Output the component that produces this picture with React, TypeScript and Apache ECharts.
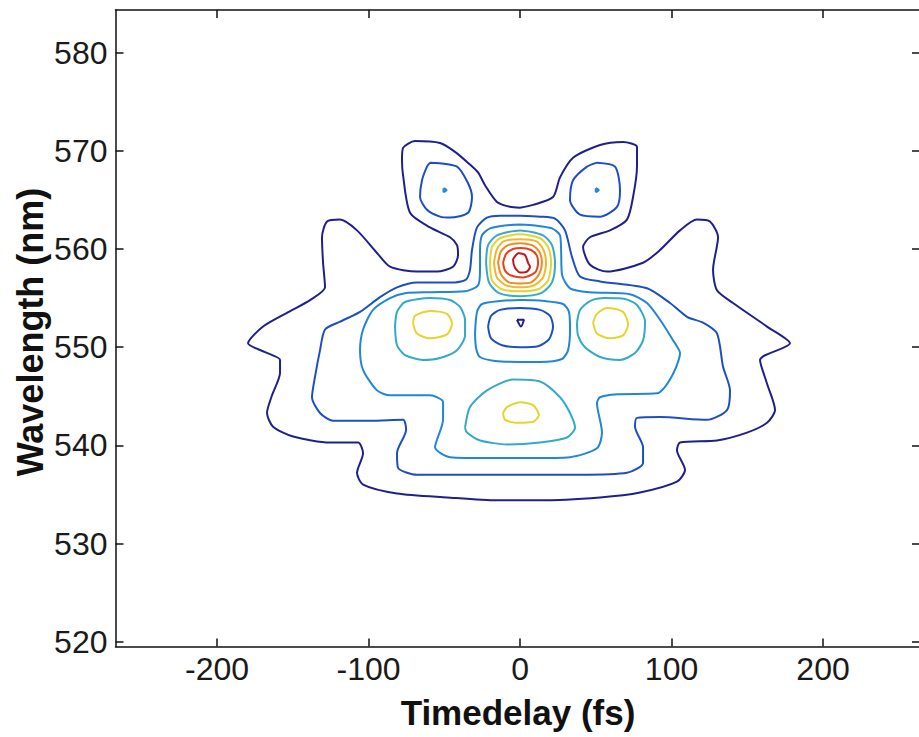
import React, { useEffect, useRef } from "react";
import * as echarts from "echarts";

// Axis ticks
const xTicks = [-200, -100, 0, 100, 200];
const yTicks = [520, 530, 540, 550, 560, 570, 580];

// Contour level colours (jet-like)
const levelColors = ["#1f1f8f", "#1c4fc4", "#2186db", "#35a9c9", "#e3d52e", "#f2b62c", "#f08a22", "#e8401e", "#c8141c"];

// Level 1 (outermost)
const level1Outer = [[0,564.2],[-6.6,564.3],[-15.2,564.8],[-23.1,566.5],[-27.7,567.8],[-33.0,568.6],[-42.9,569.9],[-52.8,570.8],[-69.3,571.0],[-77.2,570.3],[-77.9,569.1],[-77.2,567.5],[-72.6,563.7],[-59.4,562.2],[-46.2,561.2],[-41.6,560.4],[-40.9,559.4],[-44.2,558.2],[-54.8,557.7],[-68.0,557.7],[-85.8,558.2],[-94.4,559.6],[-107.6,561.9],[-118.8,563.0],[-127.4,562.8],[-130.7,561.2],[-130.0,558.6],[-128.7,556.1],[-138.6,554.8],[-153.8,553.5],[-169.6,552.1],[-179.5,550.4],[-168.3,549.5],[-158.4,548.7],[-158.4,547.4],[-163.7,545.1],[-167.0,543.3],[-163.0,541.9],[-149.8,540.9],[-125.4,540.3],[-106.9,540.3],[-103.6,539.2],[-107.6,537.2],[-103.6,536.0],[-81.2,535.1],[-48.2,534.7],[-15.2,534.4],[13.2,534.4],[52.8,534.7],[79.2,535.2],[103.6,536.3],[108.9,537.5],[103.6,539.5],[105.6,540.3],[130.0,540.5],[149.8,541.3],[163.0,542.3],[168.3,543.6],[163.0,546.3],[158.4,548.7],[178.2,550.4],[163.0,552.1],[140.6,554.5],[130.0,555.8],[127.4,557.9],[130.7,561.2],[125.4,562.8],[116.8,563.0],[105.6,561.9],[92.4,559.9],[81.2,558.6],[57.4,557.7],[46.2,558.4],[41.6,560.2],[46.2,561.2],[59.4,561.9],[70.6,563.0],[74.6,565.3],[77.2,568.4],[77.2,570.4],[68.0,570.9],[52.8,570.6],[35.0,569.3],[26.4,567.3],[21.8,565.3],[8.6,564.5],[0,564.2]];
const level1Dip = [[-2.0,552.8],[2.6,552.8],[0.7,552.1],[-2.0,552.8]];

// Level 2
const level2Main = [[0,563.4],[-13.2,563.4],[-21.8,563.2],[-28.4,562.2],[-31.7,559.9],[-33.0,557.9],[-35.6,556.9],[-42.9,556.6],[-68.0,556.6],[-81.2,556.1],[-92.4,555.1],[-105.6,553.6],[-118.8,552.6],[-128.7,551.8],[-132.0,549.7],[-135.3,547.0],[-137.3,544.9],[-132.0,543.3],[-123.4,542.5],[-99.0,542.5],[-77.2,542.6],[-75.2,541.6],[-81.2,539.2],[-80.5,537.7],[-68.0,537.0],[-26.4,537.0],[6.6,537.0],[39.6,537.0],[70.6,537.2],[81.2,538.2],[81.2,539.8],[75.9,541.9],[77.2,542.8],[92.4,542.9],[123.4,542.6],[136.6,543.6],[138.6,545.6],[134.0,548.0],[130.0,551.4],[120.8,552.5],[110.2,553.1],[99.0,554.5],[83.8,556.0],[52.8,556.7],[39.6,557.2],[34.3,559.2],[29.7,561.9],[23.1,563.1],[13.2,563.3],[0,563.4]];
const level2WingLeft = [[-59.4,568.8],[-41.6,568.4],[-34.3,566.7],[-31.7,565.3],[-34.3,563.7],[-46.2,563.2],[-52.8,563.3],[-61.4,564.0],[-66.0,565.3],[-64.7,567.0],[-61.4,568.4],[-59.4,568.8]];
const level2WingRight = [[50.8,568.8],[62.7,568.4],[66.0,566.0],[64.0,564.3],[52.8,563.3],[39.6,563.5],[33.0,565.0],[35.0,567.0],[44.2,568.4],[50.8,568.8]];
const level2Dip = [[-21.1,552.1],[-19.1,553.2],[-13.2,553.8],[0,554.0],[13.2,553.8],[19.8,553.2],[21.8,552.1],[19.1,550.8],[11.9,550.1],[0,550.0],[-11.9,550.2],[-19.1,550.9],[-21.1,552.1]];

// Level 3
const level3Main = [[0,562.5],[-9.9,562.4],[-19.8,562.1],[-25.1,561.4],[-26.4,559.9],[-26.4,557.9],[-27.7,556.3],[-36.3,555.7],[-59.4,555.6],[-75.9,555.5],[-85.8,555.0],[-97.0,553.8],[-103.6,551.8],[-105.6,549.7],[-103.6,547.7],[-94.4,545.6],[-85.8,545.1],[-59.4,545.1],[-50.8,544.4],[-50.8,542.6],[-56.1,539.8],[-46.2,538.8],[-19.8,538.7],[6.6,538.7],[33.0,538.8],[50.8,539.7],[54.1,541.3],[50.8,544.3],[52.8,544.9],[64.0,545.2],[90.4,545.3],[99.0,546.7],[105.6,549.4],[101.0,550.7],[92.4,552.8],[83.8,554.5],[72.6,555.4],[46.2,555.6],[33.0,556.0],[27.7,557.4],[27.1,559.9],[26.4,561.4],[21.1,562.1],[9.9,562.4],[0,562.5]];
const level3Dip = [[-29.7,551.4],[-28.4,553.6],[-25.1,554.4],[-13.2,554.7],[0,554.8],[16.5,554.7],[28.4,554.4],[32.3,553.6],[33.0,551.8],[31.7,549.7],[27.7,548.8],[13.2,548.5],[0,548.5],[-16.5,548.6],[-26.4,549.0],[-29.0,549.9],[-29.7,551.4]];
const level3WingLeft = [[-50.5,566.2],[-48.5,566.0],[-50.5,565.8],[-50.5,566.2]];
const level3WingRight = [[50.0,566.2],[52.0,566.0],[50.0,565.8],[50.0,566.2]];

// Level 4
const level4Center = [[-22.4,558.6],[-21.1,560.4],[-15.2,561.4],[0,561.9],[15.2,561.4],[21.1,560.4],[23.1,558.6],[21.1,556.6],[13.9,555.5],[0,555.2],[-13.9,555.5],[-20.5,556.6],[-22.4,558.6]];
const level4Left = [[-82.5,552.1],[-81.2,553.6],[-75.9,554.6],[-59.4,555.0],[-46.2,554.8],[-39.6,554.1],[-36.3,552.8],[-36.3,551.2],[-41.6,549.7],[-52.8,548.9],[-64.0,548.7],[-75.9,549.2],[-81.2,550.2],[-82.5,552.1]];
const level4Right = [[37.6,552.5],[39.6,553.8],[46.2,554.7],[56.1,555.0],[69.3,554.9],[77.2,554.3],[82.5,552.6],[81.2,550.7],[75.9,549.4],[66.0,548.7],[52.8,549.0],[42.9,550.0],[38.3,551.2],[37.6,552.5]];
const level4Bottom = [[-36.3,541.8],[-33.0,543.9],[-21.8,545.6],[-4.6,546.7],[13.2,546.5],[26.4,544.9],[33.0,543.3],[36.3,541.8],[31.0,540.8],[13.2,540.3],[-8.6,540.1],[-26.4,540.5],[-35.0,541.3],[-36.3,541.8]];

// Level 5
const level5Center = [[-19.8,558.6],[-18.5,560.2],[-13.2,561.1],[0,561.5],[13.2,561.1],[18.5,560.2],[20.5,558.6],[18.5,556.8],[11.9,555.9],[0,555.7],[-11.9,555.9],[-18.5,556.8],[-19.8,558.6]];
const level5Left = [[-70.6,552.4],[-69.3,553.2],[-59.4,553.7],[-48.2,553.4],[-44.9,552.4],[-48.2,551.3],[-59.4,550.9],[-68.0,551.4],[-70.6,552.4]];
const level5Right = [[48.2,552.5],[50.8,553.4],[57.4,554.0],[68.0,553.6],[71.3,552.3],[68.0,551.2],[59.4,550.9],[50.8,551.4],[48.2,552.5]];
const level5Bottom = [[-11.2,543.3],[-8.6,543.9],[0,544.4],[8.6,544.1],[12.5,543.1],[8.6,542.4],[-2.0,542.3],[-9.9,542.6],[-11.2,543.3]];

// Levels 6-9 (central peak)
const level6Center = [[-17.2,558.6],[-15.2,560.0],[-10.6,560.8],[0,561.0],[10.6,560.8],[15.2,560.0],[17.2,558.6],[15.2,557.1],[9.2,556.3],[0,556.1],[-9.2,556.3],[-15.2,557.1],[-17.2,558.6]];
const level7Center = [[-14.5,558.6],[-12.5,559.8],[-7.9,560.4],[0,560.6],[7.9,560.4],[12.5,559.8],[14.5,558.6],[12.5,557.4],[7.3,556.6],[0,556.5],[-7.3,556.6],[-12.5,557.4],[-14.5,558.6]];
const level8Center = [[-11.2,558.6],[-9.2,559.5],[-4.6,560.0],[0.7,560.1],[7.3,559.9],[11.2,559.3],[11.9,558.5],[9.9,557.6],[2.0,557.1],[-5.9,557.3],[-9.9,557.8],[-11.2,558.6]];
const level9Center = [[-1.3,559.6],[3.3,559.4],[5.3,558.6],[6.6,558.2],[4.6,557.7],[0,557.6],[-3.3,558.1],[-4.6,558.9],[-1.3,559.6]];

const contourSets: { data: number[][]; level: number }[] = [
  { data: level1Outer, level: 0 },
  { data: level1Dip, level: 0 },
  { data: level2Main, level: 1 },
  { data: level2WingLeft, level: 1 },
  { data: level2WingRight, level: 1 },
  { data: level2Dip, level: 1 },
  { data: level3Main, level: 2 },
  { data: level3Dip, level: 2 },
  { data: level3WingLeft, level: 2 },
  { data: level3WingRight, level: 2 },
  { data: level4Center, level: 3 },
  { data: level4Left, level: 3 },
  { data: level4Right, level: 3 },
  { data: level4Bottom, level: 3 },
  { data: level5Center, level: 4 },
  { data: level5Left, level: 4 },
  { data: level5Right, level: 4 },
  { data: level5Bottom, level: 4 },
  { data: level6Center, level: 5 },
  { data: level7Center, level: 6 },
  { data: level8Center, level: 7 },
  { data: level9Center, level: 8 },
];

const FONT = '"Liberation Sans", Arial, Helvetica, sans-serif';

export default function App() {
  const ref = useRef<HTMLDivElement>(null);
  useEffect(() => {
    if (!ref.current) return;
    const chart = echarts.init(ref.current, undefined, { renderer: "svg" });
    const axisLine = { show: true, onZero: false, lineStyle: { color: "#111", width: 1.5 } };
    const tickStyle = { lineStyle: { color: "#111", width: 1.5 } };
    chart.setOption({
      animation: false,
      backgroundColor: "#ffffff",
      grid: { left: 115.5, top: 10, width: 804.5, height: 636.6, containLabel: false },
      xAxis: [
        {
          type: "value", min: -267, max: 264, position: "bottom",
          axisLine, splitLine: { show: false },
          axisTick: { show: true, inside: true, length: 8, customValues: xTicks, ...tickStyle },
          axisLabel: { show: true, customValues: xTicks, margin: 6, fontSize: 32, color: "#1a1a1a", fontFamily: FONT },
        },
        {
          type: "value", min: -267, max: 264, position: "top",
          axisLine, splitLine: { show: false },
          axisTick: { show: true, inside: true, length: 8, customValues: xTicks, ...tickStyle },
          axisLabel: { show: false },
        },
      ],
      yAxis: [
        {
          type: "value", min: 519.5, max: 584.35, position: "left",
          axisLine, splitLine: { show: false },
          axisTick: { show: true, inside: true, length: 8, customValues: yTicks, ...tickStyle },
          axisLabel: { show: true, customValues: yTicks, margin: 8, fontSize: 32, color: "#1a1a1a", fontFamily: FONT },
        },
        {
          type: "value", min: 519.5, max: 584.35, position: "right",
          axisLine, splitLine: { show: false },
          axisTick: { show: true, inside: true, length: 8, customValues: yTicks, ...tickStyle },
          axisLabel: { show: false },
        },
      ],
      graphic: [
        {
          type: "text", x: 518, y: 712,
          style: { text: "Timedelay (fs)", font: `bold 35px ${FONT}`, fill: "#111", align: "center", verticalAlign: "middle", textAlign: "center", textVerticalAlign: "middle" },
        },
        {
          type: "text", x: 30, y: 332, rotation: Math.PI / 2,
          style: { text: "Wavelength (nm)", font: `bold 36px ${FONT}`, fill: "#111", align: "center", verticalAlign: "middle", textAlign: "center", textVerticalAlign: "middle" },
        },
      ],
      series: contourSets.map((c) => ({
        type: "line",
        xAxisIndex: 0,
        yAxisIndex: 0,
        data: c.data,
        showSymbol: false,
        symbol: "none",
        smooth: 0.25,
        silent: true,
        lineStyle: { color: levelColors[c.level], width: 2 },
      })),
    });
    return () => chart.dispose();
  }, []);
  return (
    <div style={{ position: "fixed", left: 0, top: 0, width: 919, height: 737, overflow: "hidden", background: "#fff" }}>
      <div ref={ref} style={{ width: 930, height: 737 }} />
    </div>
  );
}
